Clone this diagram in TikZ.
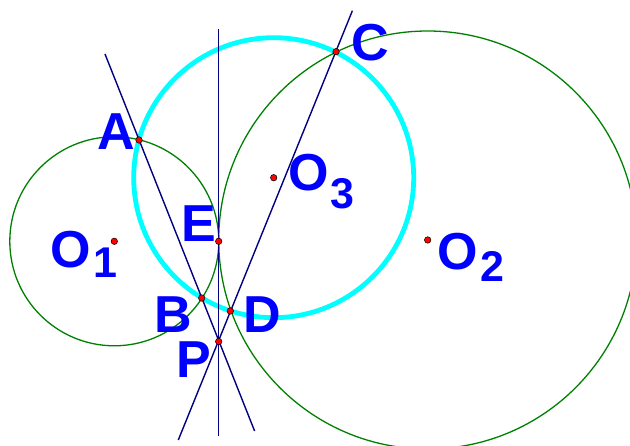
\documentclass[tikz,border=0pt]{standalone}
\usepackage{fontspec}
\setmainfont{Liberation Sans}
\definecolor{navyline}{RGB}{0,0,128}
\definecolor{circgreen}{RGB}{0,128,0}
\definecolor{circcyan}{RGB}{0,255,255}
\definecolor{lblblue}{RGB}{0,0,255}
\begin{document}
\begin{tikzpicture}[x=1pt,y=-1pt,
  pt/.style={circle,fill=red,draw=black,line width=0.5pt,inner sep=0pt,minimum size=6.5pt},
  lbl/.style={inner sep=0pt,anchor=base west,text=lblblue,font=\fontsize{52}{52}\selectfont\bfseries},
  sub/.style={font=\fontsize{43}{43}\selectfont\bfseries},
  gcirc/.style={draw=circgreen,line width=1.3pt},
  ln/.style={draw=navyline,line width=1.4pt}]
\useasboundingbox (0,0) rectangle (630,446);
\begin{scope}
\clip (0,0) rectangle (630,446);
% centres and points
\coordinate (o1) at (114.3,241.3);
\coordinate (o2) at (427.7,240);
\coordinate (o3) at (273.7,177.7);
% circles
\draw[draw=circcyan,line width=4.8pt] (o3) circle[radius=140];
\draw[gcirc] (o1) circle[radius=104.5];
\draw[gcirc] (o2) circle[radius=209];
% line end coordinates
\coordinate (ab1) at (105,54);
\coordinate (ab2) at (254.6,431);
\coordinate (cd1) at (352.4,10.7);
\coordinate (cd2) at (178.3,440);
\coordinate (v1) at (218.7,29.5);
\coordinate (v2) at (218.7,436);
\draw[ln] (ab1) -- (ab2);
\draw[ln] (cd1) -- (cd2);
\draw[ln] (v1) -- (v2);
% points
\node[pt] (A) at (139,140) {};
\node[pt] (B) at (201.7,298) {};
\node[pt] (C) at (336,51.7) {};
\node[pt] (D) at (230.3,311) {};
\node[pt] (E) at (218.7,241.3) {};
\node[pt] (P) at (218.7,341.5) {};
\node[pt] (O1) at (o1) {};
\node[pt] (O2) at (o2) {};
\node[pt] (O3) at (o3) {};
\end{scope}
% labels
\node[lbl] (lA) at (97,150) {A};
\node[lbl] (lB) at (154,333) {B};
\node[lbl] (lC) at (351,61) {C};
\node[lbl] (lD) at (243,333) {D};
\node[lbl] (lE) at (181,242) {E};
\node[lbl] (lP) at (176,378) {P};
\node[lbl] (lO1) at (50,268) {O\kern3pt\raisebox{-10pt}{\fontsize{43}{43}\selectfont\bfseries 1}};
\node[lbl] (lO2) at (437,270) {O\kern3pt\raisebox{-12pt}{\fontsize{43}{43}\selectfont\bfseries 2}};
\node[lbl] (lO3) at (288,191) {O\kern2pt\raisebox{-18pt}{\fontsize{43}{43}\selectfont\bfseries 3}};
\end{tikzpicture}
\end{document}
